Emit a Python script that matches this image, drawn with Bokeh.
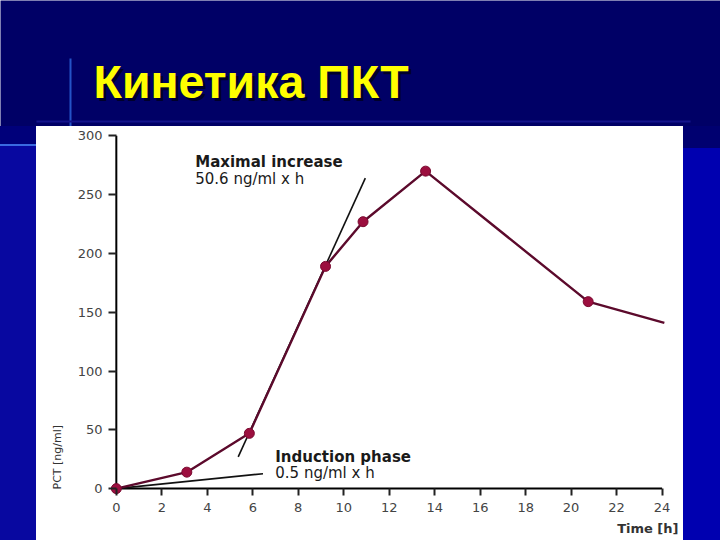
from bokeh.plotting import figure
from bokeh.models import Range1d, FixedTicker, Title, Div
from bokeh.layouts import column, row
from bokeh.embed import file_html
from bokeh.resources import INLINE
from bokeh.core.properties import value

# ---------------- data ----------------
title_text = "Кинетика ПКТ"
sample_time_h = [0, 3.1, 5.85, 9.2, 10.85, 13.6, 20.75]
pct_ng_ml = [0, 14, 47, 189, 227, 270, 159]
tail_time_h = [24.1]
tail_pct = [141]
max_increase_time = [5.36, 10.95]
max_increase_pct = [27, 264]
induction_time = [0, 6.45]
induction_pct = [0, 12.7]
x_ticks = [0, 2, 4, 6, 8, 10, 12, 14, 16, 18, 20, 22, 24]
y_ticks = [0, 50, 100, 150, 200, 250, 300]
ann_max_title = "Maximal increase"
ann_max_rate = "50.6 ng/ml x h"
ann_ind_title = "Induction phase"
ann_ind_rate = "0.5 ng/ml x h"
x_label = "Time [h]"
y_label = "PCT [ng/ml]"

NAVY = "#000066"

# ---------------- top (title band) ----------------
top = figure(width=720, height=126, x_range=Range1d(0, 720), y_range=Range1d(126, 0),
             output_backend="svg", toolbar_location=None,
             x_axis_location=None, y_axis_location=None,
             min_border=0, min_border_left=0, min_border_right=0,
             min_border_top=0, min_border_bottom=0)
top.grid.visible = False
top.outline_line_color = None
top.background_fill_color = NAVY
top.border_fill_color = NAVY
top.segment(x0=[70], y0=[58], x1=[70], y1=[126], line_color="#2a62d8", line_width=2, line_alpha=0.85)
top.segment(x0=[36], y0=[121], x1=[690], y1=[121], line_color="#14148c", line_width=2)
top.text(x=[96], y=[84], text=[title_text], text_font=value("Liberation Sans"),
         text_font_size="46.5px", text_font_style="bold", text_color="#00002a",
         text_baseline="middle", text_align="left")
top.text(x=[93], y=[81], text=[title_text], text_font=value("Liberation Sans"),
         text_font_size="46.5px", text_font_style="bold", text_color="#ffff00",
         text_baseline="middle", text_align="left")

# ---------------- side strips (plain coloured blocks) ----------------
left = Div(text="", width=36, height=414, margin=0,
           styles={"background": "linear-gradient(to bottom, #00007a 0px, #00007a 18px, "
                                 "#3a6ae0 18px, #3a6ae0 20px, #0808a0 20px, #0808a0 100%)"})
right = Div(text="", width=37, height=414, margin=0,
            styles={"background": "linear-gradient(to bottom, #000070 0px, #000070 22px, "
                                  "#0000b0 22px, #0000b0 100%)"})

# ---------------- main chart ----------------
p = figure(width=647, height=414, x_range=Range1d(-0.3, 24.15), y_range=Range1d(-5, 302),
           output_backend="svg", toolbar_location=None,
           min_border_left=73, min_border_right=18, min_border_top=7, min_border_bottom=45)
p.background_fill_color = "white"
p.border_fill_color = "white"
p.outline_line_color = None
p.grid.visible = False

for ax in (p.xaxis[0], p.yaxis[0]):
    ax.axis_line_color = None
    ax.minor_tick_line_color = None
    ax.major_tick_line_color = "#222222"
    ax.major_tick_line_width = 2
    ax.major_label_text_font = "DejaVu Sans"
    ax.major_label_text_font_size = "13px"
    ax.major_label_text_color = "#444444"
p.xaxis.ticker = FixedTicker(ticks=x_ticks)
p.yaxis.ticker = FixedTicker(ticks=y_ticks)
p.xaxis.major_tick_in = 6
p.xaxis.major_tick_out = 1
p.xaxis.major_label_standoff = 7
p.yaxis.major_tick_in = 7
p.yaxis.major_tick_out = 1
p.yaxis.major_label_standoff = 6

# axis lines through the origin
p.line(x=[x_ticks[0], x_ticks[-1]], y=[0, 0], line_color="black", line_width=2)
p.line(x=[0, 0], y=[y_ticks[0], y_ticks[-1]], line_color="black", line_width=2)

# tangent lines
p.line(x=max_increase_time, y=max_increase_pct, line_color="#111111", line_width=1.6)
p.line(x=induction_time, y=induction_pct, line_color="#111111", line_width=1.6)

# series
p.line(x=sample_time_h + tail_time_h, y=pct_ng_ml + tail_pct, line_color="#5c0a2c", line_width=2.4)
p.scatter(x=sample_time_h, y=pct_ng_ml, size=10, fill_color="#9c0f3f", line_color="#7a0a30")

# annotations
p.text(x=[3.47], y=[278], text=[ann_max_title], text_font=value("DejaVu Sans"),
       text_font_size="15px", text_font_style="bold", text_color="#1a1a1a",
       text_baseline="middle", text_align="left")
p.text(x=[3.47], y=[263.5], text=[ann_max_rate], text_font=value("DejaVu Sans"),
       text_font_size="15px", text_color="#1a1a1a", text_baseline="middle", text_align="left")
p.text(x=[6.99], y=[27], text=[ann_ind_title], text_font=value("DejaVu Sans"),
       text_font_size="15px", text_font_style="bold", text_color="#1a1a1a",
       text_baseline="middle", text_align="left")
p.text(x=[6.99], y=[13.5], text=[ann_ind_rate], text_font=value("DejaVu Sans"),
       text_font_size="15px", text_color="#1a1a1a", text_baseline="middle", text_align="left")

# axis titles
p.add_layout(Title(text=y_label, align="left", offset=5, standoff=22,
                   text_font="DejaVu Sans", text_font_size="11px", text_font_style="normal",
                   text_color="#333333"), "left")
p.add_layout(Title(text=x_label, align="right", offset=-13, standoff=9,
                   text_font="DejaVu Sans", text_font_size="13px", text_font_style="bold",
                   text_color="#333333"), "below")

layout = column(top, row(left, p, right, spacing=0), spacing=0)

open("out.html", "w").write(file_html(layout, INLINE))
